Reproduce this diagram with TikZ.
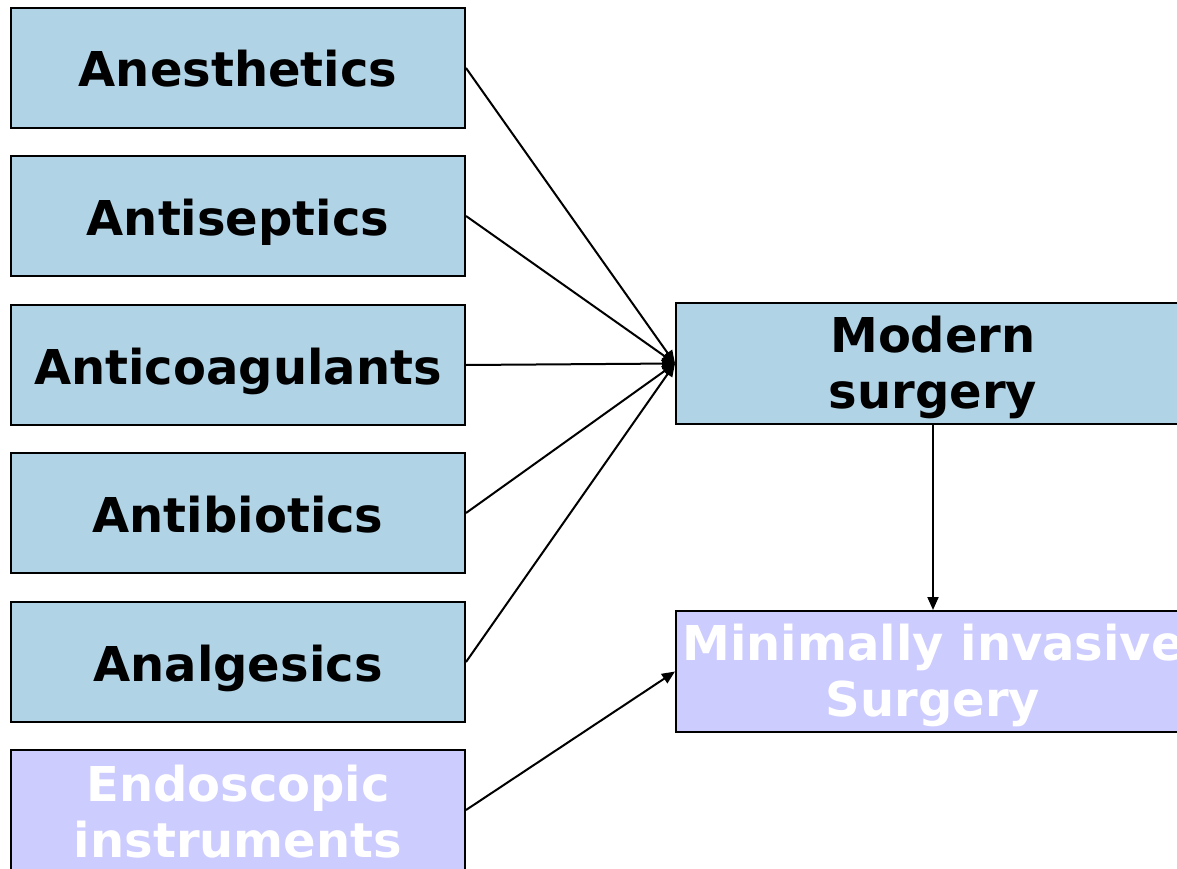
\documentclass[tikz,border=0pt]{standalone}
\usepackage{fontspec}
\setmainfont{DejaVu Sans}
\usetikzlibrary{arrows.meta}
\definecolor{boxblue}{RGB}{176,211,230}
\definecolor{boxlav}{RGB}{204,204,255}
\newcommand{\topstrut}{\rule{0pt}{45pt}}
\newcommand{\lowstrut}{\rule{0pt}{40pt}}
\tikzset{
  box/.style={draw=black, line width=2pt, minimum width=454pt, minimum height=120pt,
    inner sep=0pt, align=center, font=\fontsize{48}{56}\selectfont\bfseries},
  oneline/.style={text height=38pt, text depth=0pt},
  bluebox/.style={box, fill=boxblue, text=black},
  lavbox/.style={box, fill=boxlav, text=white},
  conn/.style={line width=2pt, -{Triangle[length=13pt,width=11pt]}}
}
\begin{document}
\begin{tikzpicture}[x=1pt,y=-1pt]
\useasboundingbox (0,0) rectangle (1177,869);
\node[bluebox, oneline] (ane) at (238,68) {Anesthetics};
\node[bluebox, oneline] (ans) at (238,216) {Antiseptics};
\node[bluebox, oneline] (anc) at (238,365) {Anticoagulants};
\node[bluebox, oneline] (anb) at (238,513) {Antibiotics};
\node[bluebox, oneline] (ana) at (238,662) {Analgesics};
\node[lavbox] (endo) at (238,810) {\lowstrut Endoscopic\\instruments};
\node[bluebox, minimum width=514pt, minimum height=121pt] (mod) at (933,363.5) {\topstrut Modern\\surgery};
\node[lavbox, minimum width=514pt, minimum height=121pt] (mis) at (933,671.5) {\topstrut Minimally invasive\\Surgery};
\coordinate (hub) at (mod.west);
\draw[conn] (ane.east) -- (hub);
\draw[conn] (ans.east) -- (hub);
\draw[conn] (anc.east) -- (hub);
\draw[conn] (anb.east) -- (hub);
\draw[conn] (ana.east) -- (hub);
\draw[conn] (mod.south) -- (mis.north);
\draw[conn] (endo.east) -- (mis.west);
\end{tikzpicture}
\end{document}
